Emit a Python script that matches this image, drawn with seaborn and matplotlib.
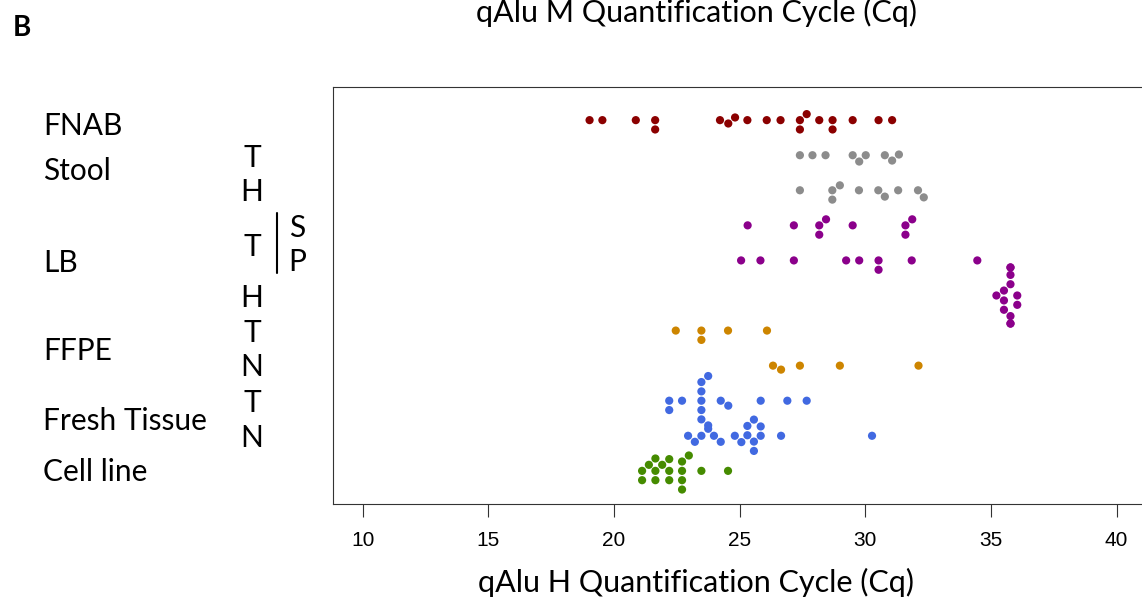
import numpy as np
import pandas as pd
import matplotlib
matplotlib.use("Agg")
import matplotlib.pyplot as plt
from matplotlib.lines import Line2D
import seaborn as sns

# Cq values, one list per swarm row (top to bottom)
fnab = [19.03, 19.54, 20.87, 21.64, 21.64, 24.22, 24.55, 24.82, 25.31, 26.08,
        26.63, 27.40, 27.40, 27.67, 28.17, 28.70, 28.70, 29.50, 30.53, 31.07]
stool_t = [27.40, 27.90, 28.42, 29.50, 29.76, 30.02, 30.78, 31.07, 31.34]
stool_h = [27.40, 28.69, 28.69, 28.99, 29.75, 30.52, 30.78, 31.31, 32.10, 32.33]
lb_t_s = [25.32, 27.16, 28.17, 28.17, 28.44, 29.50, 31.60, 31.60, 31.87]
lb_t_p = [25.06, 25.83, 27.16, 29.24, 29.76, 30.53, 30.53, 31.85, 34.46]
lb_h = [35.22, 35.52, 35.52, 35.52, 35.78, 35.78, 35.78, 35.78, 35.78, 35.78,
        35.78, 36.05, 36.05]
ffpe_t = [22.46, 23.48, 23.48, 24.54, 26.09]
ffpe_n = [26.33, 26.65, 27.40, 28.99, 32.12]
fresh_t = [22.20, 22.20, 22.71, 23.48, 23.48, 23.48, 23.48, 23.48, 23.75, 23.75,
           23.75, 24.25, 24.55, 25.84, 26.90, 27.67]
fresh_n = [22.95, 23.22, 23.48, 23.98, 24.25, 24.81, 25.07, 25.31, 25.31, 25.57,
           25.57, 25.57, 25.84, 25.84, 26.65, 30.27]
cell_line = [21.12, 21.12, 21.39, 21.65, 21.65, 21.65, 21.92, 22.20, 22.20, 22.20,
             22.71, 22.71, 22.71, 22.71, 22.98, 23.48, 24.54]

rows = [fnab, stool_t, stool_h, lb_t_s, lb_t_p, lb_h,
        ffpe_t, ffpe_n, fresh_t, fresh_n, cell_line]
row_colors = ["#8B0000", "#8C8C8C", "#8C8C8C", "#8B008B", "#8B008B", "#8B008B",
              "#CD8500", "#CD8500", "#4169E1", "#4169E1", "#458B00"]

group_labels = ["FNAB", "Stool", "LB", "FFPE", "Fresh Tissue", "Cell line"]
sub_labels = ["T", "H", "T", "H", "T", "N", "T", "N"]
xticks = [10, 15, 20, 25, 30, 35, 40]

# layout in pixels (from top), figure is 1142 x 604
W, H = 1142, 604
group_y = [126, 171, 263, 351, 421, 472]
sub_y = [158, 192, 247, 298, 333, 367, 403, 438]

sns.set_style("white")
plt.rcParams["font.family"] = ["Lato", "DejaVu Sans"]
plt.rcParams["text.color"] = "black"

fig = plt.figure(figsize=(W / 100, H / 100), dpi=100)
ax = fig.add_axes([333 / W, 1 - 504 / H, (1160 - 333) / W, (504 - 87) / H])

# each row drawn as its own swarm so the swarm can spread wider than one row
step = 0.5
for i, (vals, col) in enumerate(zip(rows, row_colors)):
    df = pd.DataFrame({"cq": vals, "row": i * step})
    sns.swarmplot(data=df, x="cq", y="row", orient="y", native_scale=True,
                  color=col, size=5.9, linewidth=0.5, edgecolor="none",
                  warn_thresh=1, ax=ax)

ax.set_xlim(8.82, 41.73)
ax.set_ylim(10 * step + 0.945 * step, -0.945 * step)
ax.set_yticks([])
ax.set_xticks(xticks)
ax.set_xticklabels([str(t) for t in xticks], family="Liberation Sans",
                   fontsize=15, color="black")
ax.tick_params(axis="x", length=9.4, width=0.8, color="#333333", pad=10,
               bottom=True)
ax.set_xlabel("")
ax.set_ylabel("")
for s in ax.spines.values():
    s.set_visible(True)
    s.set_linewidth(0.8)
    s.set_color("#333333")

# left hand labels
for lab, y in zip(group_labels, group_y):
    fig.text(43 / W, 1 - y / H, lab, fontsize=21.5, ha="left", va="center")
for lab, y in zip(sub_labels, sub_y):
    fig.text(252 / W, 1 - y / H, lab, fontsize=21.5, ha="center", va="center")
fig.text(297 / W, 1 - 228 / H, "S", fontsize=21.5, ha="center", va="center")
fig.text(297 / W, 1 - 262 / H, "P", fontsize=21.5, ha="center", va="center")
fig.add_artist(Line2D([277 / W, 277 / W], [1 - 213 / H, 1 - 273 / H],
                      color="black", lw=1.5))

fig.text(13 / W, 1 - 28 / H, "B", fontsize=20, weight="bold", ha="left", va="center")
fig.text(696 / W, 1 - 22 / H, "qAlu M Quantification Cycle (Cq)", fontsize=22,
         ha="center", va="baseline")
fig.text(696 / W, 1 - 582 / H, "qAlu H Quantification Cycle (Cq)", fontsize=22,
         ha="center", va="center")

fig.savefig("out.png", dpi=100)
